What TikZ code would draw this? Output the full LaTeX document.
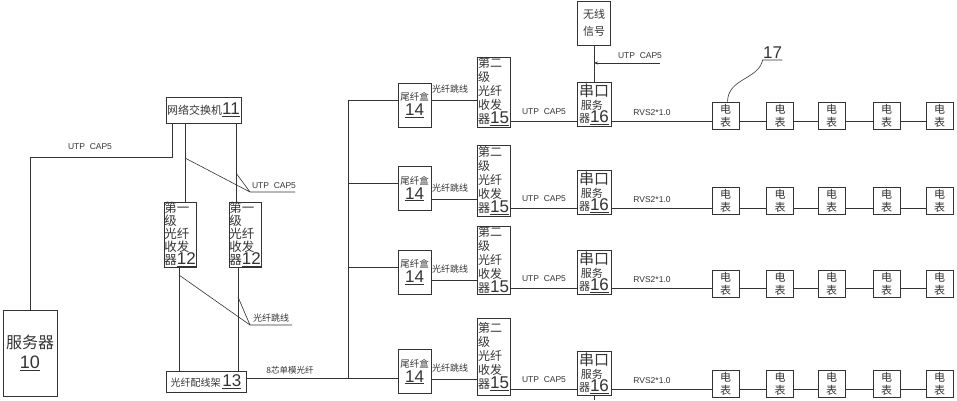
\documentclass[tikz,border=0pt]{standalone}
\usepackage{fontspec}
\setmainfont{Liberation Sans}
\newfontfamily\cjk{Noto Sans CJK SC}
\usepackage{tikz}
\usetikzlibrary{arrows.meta, positioning}

\newcommand{\zh}[1]{{\cjk #1}}
\newcommand{\refno}[2][17]{{\fontsize{#1}{#1}\selectfont\underline{#2}}}

\tikzset{
  dev/.style={draw, line width=0.7pt, inner sep=0pt, align=center},
  tall/.style={dev, align=left, font=\fontsize{12}{14}\selectfont},
  meter/.style={dev, minimum size=27, font=\fontsize{11}{13}\selectfont},
  lbl/.style={font=\fontsize{8.5}{9}\selectfont, inner sep=0pt},
  zhlbl/.style={font=\cjk\fontsize{9}{10}\selectfont, inner sep=0pt}
}

\begin{document}
\begin{tikzpicture}[x=1pt, y=-1pt, >=Stealth, line width=0.6pt, color=black!80]
  \useasboundingbox (0,0) rectangle (957,400);

  % left part: server, switch, first level transceivers, patch frame
  \node[dev, minimum width=54, minimum height=86, font=\fontsize{16}{20}\selectfont] (srv) at (30,353) {\zh{服务器}\\\refno[18]{10}};
  \node[dev, minimum width=75, minimum height=26, font=\fontsize{11}{12}\selectfont] (sw) at (203.5,110) {\zh{网络交换机}\refno{11}};
  \node[tall, minimum width=32, minimum height=65, font=\fontsize{12.5}{13}\selectfont] (foa) at (180,234.5) {\zh{第一}\\\zh{级}\\\zh{光纤}\\\zh{收发}\\\zh{器}\refno{12}};
  \node[tall, minimum width=32, minimum height=65, font=\fontsize{12.5}{13}\selectfont] (fob) at (245,234.5) {\zh{第一}\\\zh{级}\\\zh{光纤}\\\zh{收发}\\\zh{器}\refno{12}};
  \node[dev, minimum width=80, minimum height=21, font=\fontsize{10}{12}\selectfont] (odf) at (206,381.5) {\zh{光纤配线架}\,\refno{13}};

  \coordinate (k0) at (172,157);
  \draw (srv.north) |- (k0) -- (k0 |- sw.south);
  \node[lbl] (utp0) at (90,147) {UTP~~CAP5};

  \coordinate (colA) at (185,0);
  \coordinate (colB) at (236,0);
  \coordinate (colC) at (179,0);
  \coordinate (colD) at (238,0);
  \draw (sw.south -| colA) -- (foa.north -| colA);
  \draw (sw.south -| colB) -- (fob.north -| colB);
  \draw (foa.south -| colC) -- (odf.north -| colC);
  \draw (fob.south -| colD) -- (odf.north -| colD);

  % leaders
  \coordinate (k1) at (185,158);
  \coordinate (k2) at (236,173);
  \coordinate (k3) at (250,192);
  \coordinate (k4) at (295,192);
  \draw (k1) -- (k3) -- (k4) (k2) -- (k3);
  \node[lbl] (utp1) at (274,186) {UTP~~CAP5};
  \coordinate (k5) at (179,275);
  \coordinate (k6) at (238,297);
  \coordinate (k7) at (250,325);
  \coordinate (k8) at (292,325);
  \draw (k5) -- (k7) -- (k8) (k6) -- (k7);
  \node[zhlbl] (jmp0) at (271,318) {光纤跳线};

  % trunk
  \coordinate (bus1) at (348,100);
  \coordinate (bus4) at (348,378);
  \draw (odf.east |- bus4) -- (bus4);
  \draw (bus1) -- (bus4);
  \node[zhlbl, font=\cjk\fontsize{8.5}{9}\selectfont] (trunk) at (290,370) {8芯单模光纤};

  % four branches
  \foreach \r/\tc/\by/\jy/\fy/\fh/\sy/\ly/\my in {
      1/105/100/100/92/70/104.5/121/115.5,
      2/188.5/183/199/180.5/71/192/208/201,
      3/272/267/280/260.5/67/272/288/283.5,
      4/371.5/378/379/356.5/77/373.5/389/384} {
    \node[dev, minimum width=33, minimum height=44, font=\fontsize{9.5}{15}\selectfont] (tail\r) at (414.5,\tc) {\zh{尾纤盒}\\\refno{14}};
    \node[tall, minimum width=33, minimum height=\fh] (fo\r) at (493.5,\fy) {\zh{第二}\\\zh{级}\\\zh{光纤}\\\zh{收发}\\\zh{器}\refno{15}};
    \node[dev, align=left, minimum width=34, minimum height=44, font=\fontsize{11}{13}\selectfont] (ser\r) at (594,\sy) {{\cjk\fontsize{15}{15}\selectfont 串口}\\\zh{\,服务}\\\zh{器}\refno{16}};
    \foreach \i/\mx in {1/725.5,2/780,3/831.5,4/886.5,5/939.5}
      \node[meter] (m\r\i) at (\mx,\my) {\zh{电}\\\zh{表}};

    \coordinate (bus\r) at (348,\by);
    \coordinate (jmp\r) at (440,\jy);
    \coordinate (ln\r) at (600,\ly);
    \draw (bus\r) -- (bus\r -| tail\r.west);
    \draw (tail\r.east |- jmp\r) -- (fo\r.west |- jmp\r);
    \draw (fo\r.east |- ln\r) -- (ser\r.west |- ln\r);
    \draw (ser\r.east |- ln\r) -- (m\r1.west |- ln\r);
    \draw (m\r1.east |- ln\r) -- (m\r2.west |- ln\r)
          (m\r2.east |- ln\r) -- (m\r3.west |- ln\r)
          (m\r3.east |- ln\r) -- (m\r4.west |- ln\r)
          (m\r4.east |- ln\r) -- (m\r5.west |- ln\r);
    \node[zhlbl] (jl\r) at (450,\jy-11) {光纤跳线};
    \node[lbl] (ul\r) at (544,\ly-9) {UTP~~CAP5};
    \node[lbl] (rl\r) at (652,\ly-8) {RVS2*1.0};
  }

  % wireless signal above first serial server
  \node[dev, minimum width=33, minimum height=44, font=\fontsize{11}{17}\selectfont] (wl) at (594,23) {\zh{无线}\\\zh{信号}};
  \draw (wl.south) -- (ser1.north);
  \coordinate (utpin) at (660,63);
  \draw[-{Stealth[length=4pt, width=3pt]}] (utpin) -- (utpin -| wl.south);
  \node[lbl] (utpw) at (640,56) {UTP~~CAP5};

  \coordinate (serdown) at (594,400);
  \draw (ser4.south) -- (serdown);

  % callout 17
  \node[font=\fontsize{17}{17}\selectfont, inner xsep=0pt, inner ysep=1.5pt, anchor=south, minimum width=19] (n17) at (772.5,60) {17};
  \draw ([xshift=2pt]m11.north) .. controls (728,78) and (758,80) .. (n17.south west) -- (n17.south east);
\end{tikzpicture}
\end{document}
